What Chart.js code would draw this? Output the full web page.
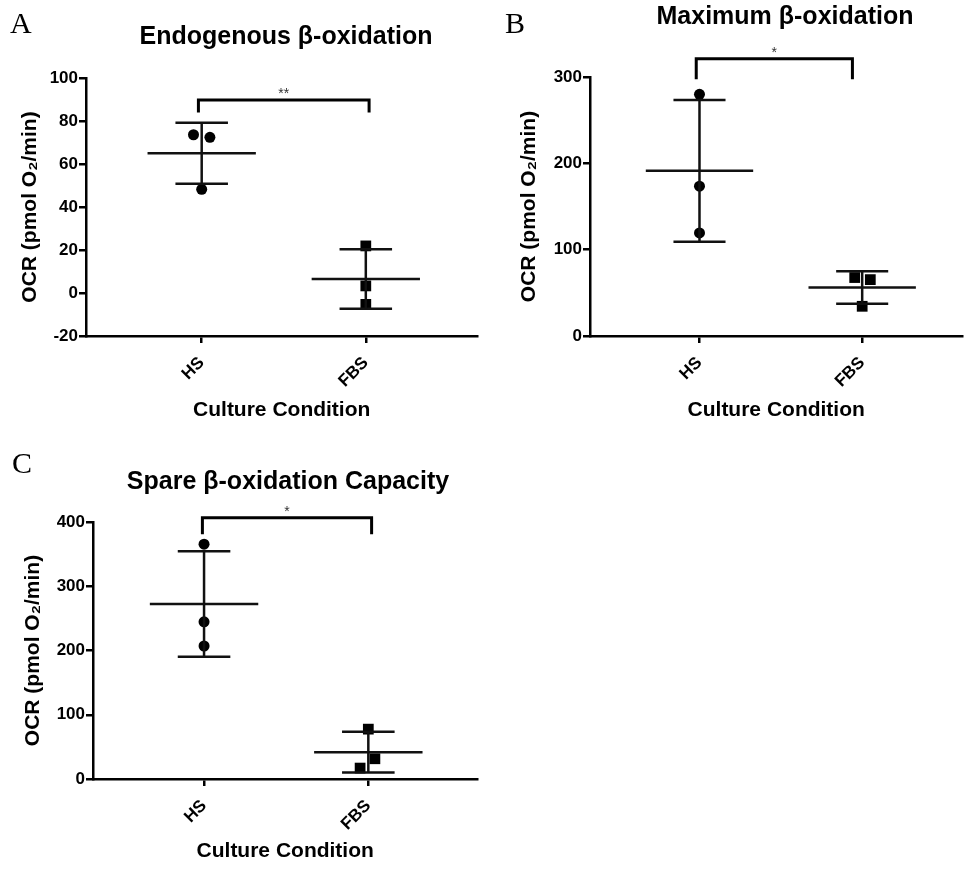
<!DOCTYPE html>
<html>
<head>
<meta charset="utf-8">
<script src="https://cdn.jsdelivr.net/npm/chart.js@4"></script>
<style>
  body { margin: 0; background: #fff; width: 970px; height: 869px; position: relative; overflow: hidden; }
  .panel { position: absolute; }
</style>
</head>
<body>
<div class="panel" style="left:0;top:0;width:485px;height:440px"><canvas id="chartA"></canvas></div>
<div class="panel" style="left:485px;top:0;width:485px;height:440px"><canvas id="chartB"></canvas></div>
<div class="panel" style="left:0;top:440px;width:485px;height:429px"><canvas id="chartC"></canvas></div>
<script>
const groups = ['HS', 'FBS'];

// Endogenous β-oxidation, OCR in pmol O2/min
const endoHS = [73.6, 72.4, 48.2];
const endoFBS = [21.9, 3.3, -5.3];
const endoMean = [65.0, 6.5];
const endoSD = [14.2, 13.8];
const endoTicks = [-20, 0, 20, 40, 60, 80, 100];

// Maximum β-oxidation
const maxHS = [280, 173.5, 119.4];
const maxFBS = [67.7, 65.3, 34.4];
const maxMean = [191.3, 56.2];
const maxSD = [82.2, 18.7];
const maxTicks = [0, 100, 200, 300];

// Spare β-oxidation capacity
const spareHS = [365.4, 244.7, 207];
const spareFBS = [77.6, 31.5, 17];
const spareMean = [272.3, 41.8];
const spareSD = [82.2, 31.6];
const spareTicks = [0, 100, 200, 300, 400];

// significance brackets: [left end, right end, top, foot] and their stars
const endoBracket = [-0.02, 1.02, 89.8, 84];
const maxBracket = [-0.02, 0.94, 321, 297.5];
const spareBracket = [-0.01, 1.02, 406.5, 381];
const endoStars = '**';
const maxStars = '*';
const spareStars = '*';

// horizontal spread of overlapping replicates (category units)
const endoJitter = [[-0.05, 0.05, 0], [0, 0, 0]];
const maxJitter = [[0, 0, 0], [-0.046, 0.05, 0]];
const spareJitter = [[0, 0, 0], [0, 0.04, -0.05]];

const SANS = '"Liberation Sans", Arial, sans-serif';
const MEAN_HALF = 0.33;
const CAP_HALF = 0.16;

function seg(x1, y1, x2, y2, width) {
    return {
        type: 'line',
        data: [{ x: x1, y: y1 }, { x: x2, y: y2 }],
        borderColor: '#111',
        borderWidth: width || 2.5,
        pointRadius: 0,
        clip: false
    };
}

const panelText = {
    id: 'panelText',
    afterDraw(chart, args, opts) {
        const { ctx, scales: { x, y } } = chart;
        ctx.save();
        ctx.fillStyle = '#000';
        ctx.textAlign = 'left';
        ctx.textBaseline = 'alphabetic';
        ctx.font = '30px "Liberation Serif", "Times New Roman", serif';
        ctx.fillText(opts.letter, opts.letterX, 33);

        ctx.textAlign = 'center';
        ctx.textBaseline = 'middle';
        ctx.font = 'bold 25px ' + SANS;
        ctx.fillText(opts.title, opts.titleX, opts.titleY);

        const b = opts.bracket;
        ctx.font = '14px ' + SANS;
        ctx.fillStyle = '#333';
        ctx.textBaseline = 'alphabetic';
        ctx.fillText(opts.stars, x.getPixelForValue((b[0] + b[1]) / 2), y.getPixelForValue(b[2]) - 2);
        ctx.restore();
    }
};

function makePanel(id, p) {
    const datasets = [];
    const values = [p.hs, p.fbs];

    values.forEach((vals, i) => {
        const m = p.mean[i], sd = p.sd[i];
        datasets.push(seg(i - MEAN_HALF, m, i + MEAN_HALF, m));
        datasets.push(seg(i, m - sd, i, m + sd));
        datasets.push(seg(i - CAP_HALF, m + sd, i + CAP_HALF, m + sd));
        datasets.push(seg(i - CAP_HALF, m - sd, i + CAP_HALF, m - sd));
        datasets.push({
            type: 'scatter',
            data: vals.map((v, k) => ({ x: i + p.jitter[i][k], y: v })),
            pointStyle: i === 0 ? 'circle' : 'rect',
            pointRadius: i === 0 ? 5.5 : 7.6,
            backgroundColor: '#000',
            borderColor: '#000',
            borderWidth: 0,
            clip: false
        });
    });

    const b = p.bracket;
    datasets.push({
        type: 'line',
        data: [{ x: b[0], y: b[3] }, { x: b[0], y: b[2] }, { x: b[1], y: b[2] }, { x: b[1], y: b[3] }],
        borderColor: '#000',
        borderWidth: 3,
        pointRadius: 0,
        clip: false
    });

    const L = p.box;
    const xTitleHalf = 21 * 1.2 / 2;
    const xBottom = L.xTitleY + xTitleHalf;
    const yTitleHalf = 21 * 1.2 / 2;

    new Chart(document.getElementById(id), {
        type: 'scatter',
        data: { datasets },
        options: {
            responsive: true,
            maintainAspectRatio: false,
            animation: false,
            events: [],
            layout: {
                padding: { left: 0, top: L.top, right: L.w - L.right, bottom: L.h - xBottom }
            },
            plugins: {
                legend: { display: false },
                tooltip: { enabled: false },
                panelText: {
                    letter: p.letter, letterX: p.letterX,
                    title: p.title, titleX: p.titleX, titleY: p.titleY,
                    bracket: p.bracket, stars: p.stars
                }
            },
            scales: {
                x: {
                    type: 'linear',
                    min: p.xMin,
                    max: p.xMax,
                    afterBuildTicks: s => { s.ticks = groups.map((g, i) => ({ value: i })); },
                    afterFit: s => { s.height = xBottom - L.bottom; },
                    ticks: {
                        autoSkip: false,
                        minRotation: 45,
                        maxRotation: 45,
                        padding: 10,
                        color: '#000',
                        font: { family: SANS, size: 17, weight: 'bold' },
                        callback: v => groups[v]
                    },
                    grid: { drawOnChartArea: false, drawTicks: true, tickLength: 7, color: '#000', lineWidth: 2.5 },
                    border: { display: true, color: '#000', width: 2.5 },
                    title: {
                        display: true,
                        text: 'Culture Condition',
                        color: '#000',
                        padding: 0,
                        font: { family: SANS, size: 21, weight: 'bold' }
                    }
                },
                y: {
                    min: p.ticks[0],
                    max: p.ticks[p.ticks.length - 1],
                    afterBuildTicks: s => { s.ticks = p.ticks.map(v => ({ value: v })); },
                    afterFit: s => { s.width = L.left; },
                    ticks: {
                        padding: 1,
                        color: '#000',
                        font: { family: SANS, size: 17, weight: 'bold' }
                    },
                    grid: { drawOnChartArea: false, drawTicks: true, tickLength: 7, color: '#000', lineWidth: 2.5 },
                    border: { display: true, color: '#000', width: 2.5 },
                    title: {
                        display: true,
                        text: 'OCR (pmol O₂/min)',
                        color: '#000',
                        padding: { top: L.yTitleX - yTitleHalf, bottom: 0 },
                        font: { family: SANS, size: 21, weight: 'bold' }
                    }
                }
            }
        },
        plugins: [panelText]
    });
}

makePanel('chartA', {
    hs: endoHS, fbs: endoFBS, mean: endoMean, sd: endoSD, ticks: endoTicks,
    jitter: endoJitter, bracket: endoBracket, stars: endoStars,
    xMin: -0.705, xMax: 1.68,
    letter: 'A', letterX: 10, title: 'Endogenous β-oxidation', titleX: 286, titleY: 37,
    box: { w: 485, h: 440, left: 86, right: 482, top: 78, bottom: 336, yTitleX: 30, xTitleY: 410 }
});

makePanel('chartB', {
    hs: maxHS, fbs: maxFBS, mean: maxMean, sd: maxSD, ticks: maxTicks,
    jitter: maxJitter, bracket: maxBracket, stars: maxStars,
    xMin: -0.673, xMax: 1.616,
    letter: 'B', letterX: 20, title: 'Maximum β-oxidation', titleX: 300, titleY: 17,
    box: { w: 485, h: 440, left: 105, right: 485, top: 77, bottom: 336, yTitleX: 44, xTitleY: 410 }
});

makePanel('chartC', {
    hs: spareHS, fbs: spareFBS, mean: spareMean, sd: spareSD, ticks: spareTicks,
    jitter: spareJitter, bracket: spareBracket, stars: spareStars,
    xMin: -0.676, xMax: 1.664,
    letter: 'C', letterX: 12, title: 'Spare β-oxidation Capacity', titleX: 288, titleY: 42,
    box: { w: 485, h: 429, left: 93, right: 483, top: 82, bottom: 339, yTitleX: 33, xTitleY: 411 }
});
</script>
</body>
</html>
